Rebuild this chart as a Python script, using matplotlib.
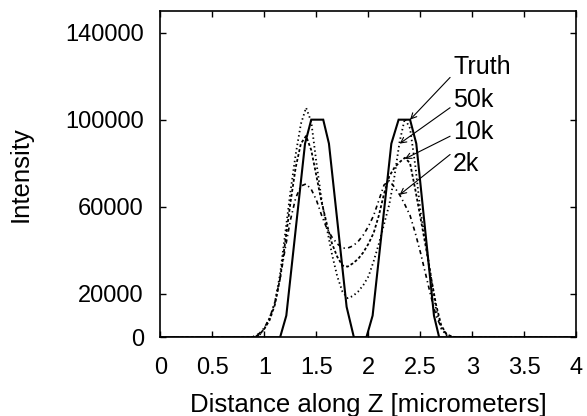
import matplotlib
matplotlib.use("Agg")
import matplotlib.pyplot as plt

plt.rcParams["font.family"] = ["Liberation Sans", "DejaVu Sans"]

# Ground truth profile along Z (piecewise linear)
truth_z = [0.0, 1.15, 1.21, 1.39, 1.45, 1.565, 1.62, 1.79, 1.86, 1.98, 2.04,
           2.22, 2.29, 2.40, 2.46, 2.63, 2.68, 4.0]
truth_val = [0, 0, 10000, 89000, 100000, 100000, 89000, 14000, 0, 0, 10000,
             89000, 100000, 100000, 89000, 10000, 0, 0]

# Reconstructions sampled along Z
z = [0.0, 0.85, 0.90, 0.95, 1.00, 1.05, 1.10, 1.15, 1.20, 1.25, 1.30, 1.35,
     1.40, 1.45, 1.50, 1.55, 1.60, 1.65, 1.70, 1.75, 1.80, 1.85, 1.90, 1.95,
     2.00, 2.05, 2.10, 2.15, 2.20, 2.25, 2.30, 2.35, 2.40, 2.45, 2.50, 2.55,
     2.60, 2.65, 2.70, 2.75, 2.80, 2.85, 4.0]
recon_50k = [0, 0, 200, 1000, 4000, 9000, 16000, 29000, 48000, 67000, 84000,
             98000, 105500, 99000, 80000, 63000, 50000, 38000, 28000, 21000,
             18000, 19000, 21000, 24000, 28000, 35000, 43000, 52000, 61000,
             74000, 90000, 100500, 96000, 79000, 58000, 44000, 28000, 13000,
             4000, 1000, 200, 0, 0]
recon_10k = [0, 0, 300, 1200, 4000, 8000, 15000, 27000, 44000, 62000, 78000,
             89000, 92500, 86000, 74000, 62000, 52000, 43000, 37000, 33000,
             32500, 34000, 36000, 39000, 43000, 48000, 56000, 66000, 74000,
             78000, 80500, 82500, 80000, 68000, 55000, 42000, 28000, 15000,
             5500, 1500, 400, 0, 0]
recon_2k = [0, 0, 500, 1800, 4500, 9000, 16000, 27000, 41000, 54000, 64000,
            69500, 70500, 68000, 63000, 56000, 50000, 46000, 43000, 41000,
            41000, 42000, 44000, 47000, 51000, 56000, 63000, 70000, 72000,
            69000, 65500, 61000, 56000, 48000, 39000, 29000, 19000, 10000,
            4500, 1500, 400, 0, 0]

labels = ["Truth", "50k", "10k", "2k"]
label_y = [121200, 106000, 90900, 76200]
arrow_tail = [(2.785, 119400), (2.785, 105500), (2.785, 92400), (2.785, 84000)]
arrow_tip = [(2.40, 100000), (2.30, 89000), (2.35, 82000), (2.30, 65500)]

fig = plt.figure(figsize=(5.87, 4.16), dpi=100)
ax = fig.add_axes([0.2734, 0.189, 0.7086, 0.785])

ax.plot(truth_z, truth_val, color="black", lw=1.5, solid_joinstyle="miter")
ax.plot(z, recon_50k, color="black", lw=1.3, dashes=(0.8, 1.6))
ax.plot(z, recon_10k, color="black", lw=1.3, dashes=(1.6, 1.2))
ax.plot(z, recon_2k, color="black", lw=1.2, dashes=(2.5, 2.0, 0.8, 2.0))

# labels with arrows pointing onto each curve
for name, ly, tail, tip in zip(labels, label_y, arrow_tail, arrow_tip):
    ax.text(2.815, ly, name, fontsize=18, va="baseline", ha="left")
    ax.annotate("", xy=tip, xytext=tail,
                arrowprops=dict(arrowstyle="->", color="black", lw=0.8,
                                shrinkA=0, shrinkB=0, mutation_scale=10))

ax.set_xlim(0, 4)
ax.set_ylim(0, 150000)
ax.set_xticks([0, 0.5, 1, 1.5, 2, 2.5, 3, 3.5, 4])
ax.set_xticklabels(["0", "0.5", "1", "1.5", "2", "2.5", "3", "3.5", "4"])
ax.set_yticks([0, 20000, 60000, 100000, 140000])
ax.set_yticklabels(["0", "20000", "60000", "100000", "140000"])
ax.tick_params(direction="in", length=4, width=1, top=True, right=True,
               labelsize=17)
ax.tick_params(axis="x", pad=14)
ax.tick_params(axis="y", pad=12)
for sp in ax.spines.values():
    sp.set_linewidth(1.2)

ax.set_xlabel("Distance along Z [micrometers]", fontsize=18.5, labelpad=10)
ax.set_ylabel("Intensity", fontsize=18.5, labelpad=23)

fig.savefig("out.png", dpi=100)
